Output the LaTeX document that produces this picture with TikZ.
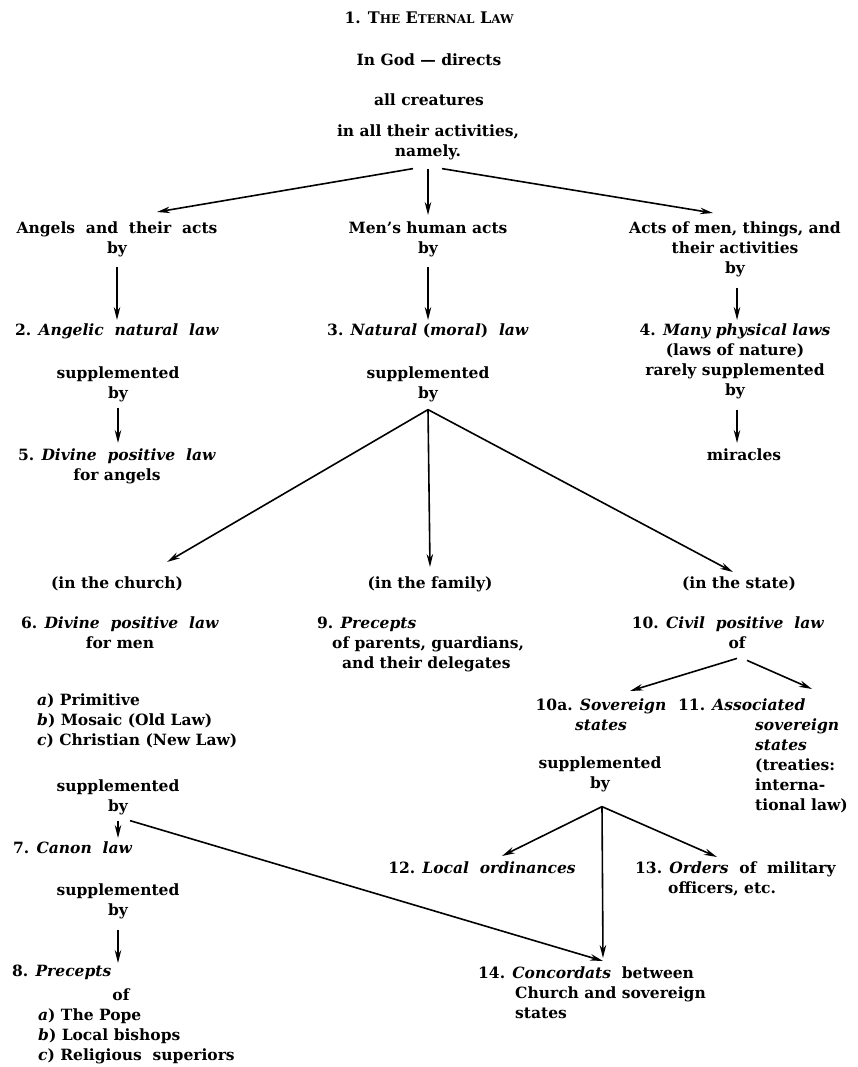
\documentclass[tikz,border=0pt]{standalone}
\usepackage{fontspec}
\setmainfont{DejaVu Serif}
\usetikzlibrary{arrows.meta,calc}
\newcommand{\fsz}{\fontsize{15.5}{20}\selectfont}
\newcommand{\bigc}[1]{{\fontsize{16}{20}\selectfont #1}}
\newcommand{\smc}[1]{{\fontsize{12}{20}\selectfont #1}}
\begin{document}
\begin{tikzpicture}[x=1pt,y=-1pt,
  lbl/.style={inner sep=0pt, font=\fsz\bfseries, align=center, anchor=north, text=black},
  lbll/.style={lbl, align=left, anchor=north west},
  arr/.style={draw=black, line width=1.6pt, -{Stealth[length=13pt,width=6.5pt]}}]
\useasboundingbox (0,0) rectangle (858,1067);
\fill[white] (0,0) rectangle (858,1067);

% top
\node[lbl] (t1) at (429,12) {1. \bigc{T}\smc{HE} \bigc{E}\smc{TERNAL} \bigc{L}\smc{AW}};
\node[lbl] (t2) at (429,54) {In God — directs};
\node[lbl] (t3) at (429,94) {all creatures};
\node[lbl] (t4) at (428,125) {in all their activities,\\namely.};

\node[lbl] (a1) at (117,222) {Angels\ \ and\ \ their\ \ acts\\by};
\node[lbl] (a2) at (428,222) {Men’s human acts\\by};
\node[lbl] (a3) at (735,222) {Acts of men, things, and\\their activities\\by};

\node[lbl] (n2) at (117,324) {2. \textit{Angelic\ \ natural\ \ law}};
\node[lbl] (n3) at (428,324) {3. \textit{Natural} (\textit{moral})\ \ \textit{law}};
\node[lbl] (n4) at (735,324) {4. \textit{Many physical\ laws}\\(laws of nature)\\rarely supplemented\\by};
\node[lbl] (mir) at (744,449) {miracles};

\node[lbl] (sL) at (118,367) {supplemented\\by};
\node[lbl] (n5) at (117,449) {5. \textit{Divine\ \ positive\ \ law}\\for angels};
\node[lbl] (sM) at (428,367) {supplemented\\by};

\node[lbl] (church) at (117,577) {(in the church)};
\node[lbl] (family) at (430,577) {(in the family)};
\node[lbl] (state) at (739,577) {(in the state)};

\node[lbl] (n6) at (120,617) {6. \textit{Divine\ \ positive\ \ law}\\for men};
\node[lbll] (n9) at (317,617) {9. \textit{Precepts}\\\hspace*{15pt}of parents, guardians,\\\hspace*{25pt}and their delegates};
\node[lbl] (n10) at (728,617) {10. \textit{Civil\ \ positive\ \ law}\\\hspace*{18pt}of};

\node[lbl] (n10a) at (601,699) {10a. \textit{Sovereign}\\\textit{states}};
\node[lbll] (n11) at (678,699) {11. \textit{Associated}\\\hspace*{77pt}\textit{sovereign}\\\hspace*{77pt}\textit{states}\\\hspace*{77pt}(treaties:\\\hspace*{77pt}interna-\\\hspace*{77pt}tional law)};
\node[lbl] (sR) at (600,757) {supplemented\\by};

\node[lbl] (n12) at (482,862) {12. \textit{Local\ \ ordinances}};
\node[lbll] (n13) at (635,862) {13. \textit{Orders}\ \ of\ \ military\\\hspace*{33pt}officers, etc.};
\node[lbll] (n14) at (478,967) {14. \textit{Concordats}\ \ between\\\hspace*{37pt}Church and sovereign\\\hspace*{37pt}states};

\node[lbll] (n6l) at (37,694) {\textit{a}) Primitive\\\textit{b}) Mosaic (Old Law)\\\textit{c}) Christian (New Law)};
\node[lbl] (sC) at (118,780) {supplemented\\by};
\node[lbll] (n7) at (13,842) {7. \textit{Canon\ \ law}};
\node[lbl] (sD) at (118,884) {supplemented\\by};
\node[lbll] (n8) at (12,965) {8. \textit{Precepts}};
\node[lbl] (of8) at (121,989) {of};
\node[lbll] (n8l) at (38,1009) {\textit{a}) The Pope\\\textit{b}) Local bishops\\\textit{c}) Religious\ \ superiors};

% connectors
\draw[arr] ($(t4.south)+(-15,8)$) -- ($(a1.north)+(40,-10)$);
\draw[arr] ($(t4.south)+(0,8)$) -- ($(a2.north)+(0,-7)$);
\draw[arr] ($(t4.south)+(14,8)$) -- ($(a3.north)+(-22,-9)$);

\draw[arr] ($(a1.south)+(0,9)$) -- ($(n2.north)+(0,-4)$);
\draw[arr] ($(a2.south)+(0,9)$) -- ($(n3.north)+(0,-4)$);
\draw[arr] ($(a3.south)+(2,10)$) -- ($(n4.north)+(2,-4)$);
\draw[arr] ($(n4.south)+(2,10)$) -- ($(mir.north)+(-7,-6)$);
\draw[arr] ($(sL.south)+(0,5)$) -- ($(n5.north)+(1,-6)$);

\coordinate (jM) at ($(sM.south)+(0,7)$);
\draw[arr] (jM) -- ($(church.north)+(50,-15)$);
\draw[arr] (jM) -- ($(family.north)+(0,-10)$);
\draw[arr] (jM) -- ($(state.north)+(-6,-5)$);

\draw[arr] ($(n10.south)+(9,9)$) -- ($(n10a.north)+(29,-8)$);
\draw[arr] ($(n10.south)+(19,11)$) -- ($(n11.north west)+(134,-10)$);

\coordinate (jR) at ($(sR.south)+(2,14)$);
\draw[arr] (jR) -- ($(n12.north)+(20,-6)$);
\draw[arr] (jR) -- ($(n13.north west)+(82,-5)$);
\draw[arr] (jR) -- ($(n14.north west)+(125,-9)$);

\draw[arr] ($(sC.south)+(0,5)$) -- ($(n7.north west)+(105,-4)$);
\draw[arr] ($(sC.south)+(12,5)$) -- ($(n14.north west)+(125,-6)$);
\draw[arr] ($(sD.south)+(0,10)$) -- ($(n8.north west)+(106,-2)$);
\end{tikzpicture}
\end{document}
